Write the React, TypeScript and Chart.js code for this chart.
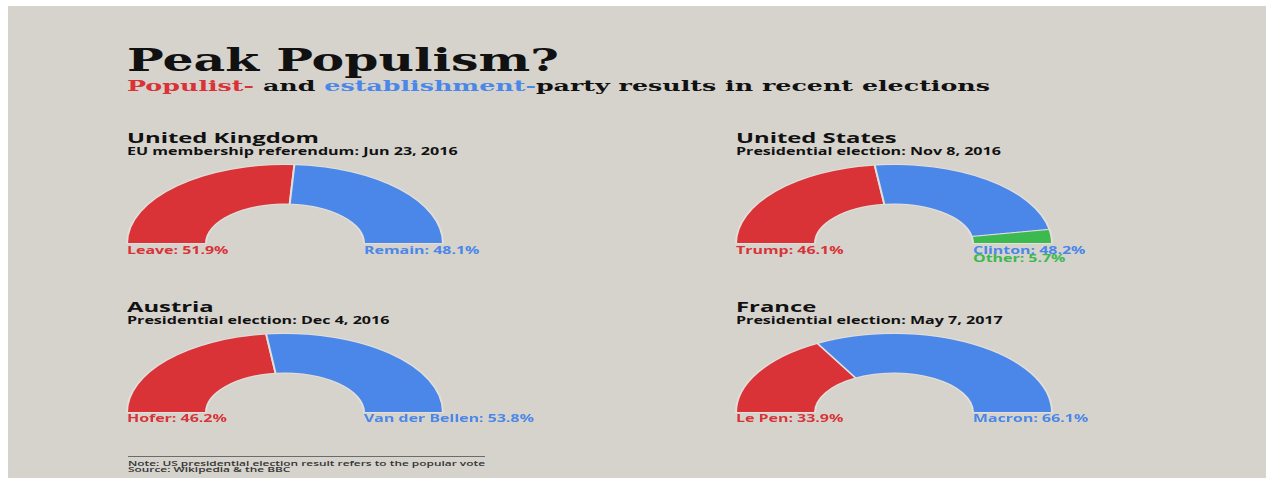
import React, { useEffect, useRef } from 'react';
import { Chart, registerables } from 'chart.js';

Chart.register(...registerables);

// ---------- data ----------
const titleText = 'Peak Populism?';
const subtitleParts = ['Populist-', ' and ', 'establishment-', 'party results in recent elections'];
const countries = ['United Kingdom', 'United States', 'Austria', 'France'];
const elections = [
  'EU membership referendum: Jun 23, 2016',
  'Presidential election: Nov 8, 2016',
  'Presidential election: Dec 4, 2016',
  'Presidential election: May 7, 2017',
];
const ukParties = ['Leave', 'Remain'];
const ukShares = [51.9, 48.1];
const usParties = ['Trump', 'Clinton', 'Other'];
const usShares = [46.1, 48.2, 5.7];
const atParties = ['Hofer', 'Van der Bellen'];
const atShares = [46.2, 53.8];
const frParties = ['Le Pen', 'Macron'];
const frShares = [33.9, 66.1];
const noteLines = [
  'Note: US presidential election result refers to the popular vote',
  'Source: Wikipedia & the BBC',
];

// ---------- styles ----------
const RED = '#d93237';
const BLUE = '#4a87e8';
const GREEN = '#3cb94f';
const BG = '#d6d3cd';
const ukColors = [RED, BLUE];
const usColors = [RED, BLUE, GREEN];
const atColors = [RED, BLUE];
const frColors = [RED, BLUE];

const PANEL_LEFT = 8;
const PANEL_TOP = 6;
const PANEL_W = 1258;
const PANEL_H = 472;

const GW = 160; // internal gauge box width
const GH = 80; // internal gauge box height
const STRETCH = 2;
const RADIUS = 79;

const SANS = "'Open Sans', 'Noto Sans', sans-serif";
const SERIF = "'DejaVu Serif', serif";
const SANS_METRICS = { cap: 0.714, asc: 1.069, desc: 0.293 };
const SERIF_METRICS = { cap: 0.729, asc: 0.928, desc: 0.236 };

let mctx: CanvasRenderingContext2D | null = null;
function textWidth(text: string, font: string): number {
  if (!mctx) mctx = document.createElement('canvas').getContext('2d');
  if (!mctx) return 0;
  mctx.font = font;
  return mctx.measureText(text).width;
}

type Style = { family: string; weight: number; size: number; scale: number; asc: number; desc: number; lh: number };

function makeStyle(
  family: string,
  weight: number,
  capPx: number,
  m: { cap: number; asc: number; desc: number },
  refText: string,
  refWidth: number,
  lineHeightPx?: number
): Style {
  const size = capPx / m.cap;
  const w = textWidth(refText, `${weight} ${size}px ${family}`);
  return {
    family,
    weight,
    size,
    scale: w > 0 ? refWidth / w : 1.7,
    asc: m.asc,
    desc: m.desc,
    lh: lineHeightPx ?? size,
  };
}

// x, baseline: position of the first line's baseline (page pixels)
function Txt(props: { x: number; baseline: number; st: Style; color?: string; children: React.ReactNode }) {
  const { x, baseline, st, color, children } = props;
  const baseOffset = (st.lh - (st.asc + st.desc) * st.size) / 2 + st.asc * st.size;
  const top = baseline - baseOffset;
  return (
    <div
      style={{
        position: 'absolute',
        left: x - PANEL_LEFT,
        top: top - PANEL_TOP,
        fontFamily: st.family,
        fontWeight: st.weight,
        fontSize: st.size,
        lineHeight: `${st.lh}px`,
        whiteSpace: 'nowrap',
        color: color || '#111',
        transform: `scaleX(${st.scale})`,
        transformOrigin: 'left top',
      }}
    >
      {children}
    </div>
  );
}

function Gauge(props: { parties: string[]; shares: number[]; colors: string[]; cx: number; base: number }) {
  const { parties, shares, colors, cx, base } = props;
  const ref = useRef<HTMLCanvasElement>(null);
  useEffect(() => {
    if (!ref.current) return;
    const chart = new Chart(ref.current, {
      type: 'doughnut',
      data: {
        labels: parties,
        datasets: [
          {
            data: shares,
            backgroundColor: colors,
            borderColor: '#e2dfda',
            borderWidth: 1,
          },
        ],
      },
      options: {
        responsive: true,
        maintainAspectRatio: false,
        animation: false,
        devicePixelRatio: 2,
        rotation: -90,
        circumference: 180,
        cutout: '50%',
        events: [],
        layout: { padding: 0 },
        plugins: { legend: { display: false }, tooltip: { enabled: false } },
      } as any,
    });
    return () => chart.destroy();
  }, []);
  return (
    <div
      style={{
        position: 'absolute',
        left: cx - GW - PANEL_LEFT,
        top: base - (GH - 0.5) - PANEL_TOP,
        width: GW,
        height: GH,
        transform: `scaleX(${STRETCH})`,
        transformOrigin: 'left top',
      }}
    >
      <canvas ref={ref} />
    </div>
  );
}

const gauges = [
  { parties: ukParties, shares: ukShares, colors: ukColors, cx: 285, base: 243.3 },
  { parties: usParties, shares: usShares, colors: usColors, cx: 893.5, base: 243.3 },
  { parties: atParties, shares: atShares, colors: atColors, cx: 285, base: 412 },
  { parties: frParties, shares: frShares, colors: frColors, cx: 893.5, base: 412 },
];

const fmt = (p: string, v: number) => `${p}: ${v.toFixed(1)}%`;

export default function App() {
  const titleSt = makeStyle(SERIF, 700, 22.5, SERIF_METRICS, titleText, 432);
  const subSt = makeStyle(SERIF, 700, 11, SERIF_METRICS, subtitleParts.join(''), 863);
  const headSt = makeStyle(SANS, 700, 10.7, SANS_METRICS, countries[0], 192);
  const electSt = makeStyle(SANS, 700, 7.4, SANS_METRICS, elections[0], 330.6);
  const labelSt = makeStyle(SANS, 700, 6.9, SANS_METRICS, fmt(atParties[1], atShares[1]), 170, 8.4);
  const noteSt = makeStyle(SANS, 600, 5.2, SANS_METRICS, noteLines[0], 357, 6.5);

  return (
    <div
      style={{
        position: 'absolute',
        left: PANEL_LEFT,
        top: PANEL_TOP,
        width: PANEL_W,
        height: PANEL_H,
        background: BG,
        overflow: 'hidden',
      }}
    >
      <Txt x={127} baseline={71} st={titleSt}>
        {titleText}
      </Txt>
      <Txt x={127} baseline={91.5} st={subSt}>
        <span style={{ color: RED }}>{subtitleParts[0]}</span>
        <span>{subtitleParts[1]}</span>
        <span style={{ color: BLUE }}>{subtitleParts[2]}</span>
        <span>{subtitleParts[3]}</span>
      </Txt>

      {gauges.map((g, i) => {
        const left = g.cx - STRETCH * RADIUS;
        const right = g.cx + STRETCH * RADIUS * 0.5;
        const headBase = g.base - 100;
        const rest = g.parties.slice(1);
        return (
          <React.Fragment key={i}>
            <Txt x={left} baseline={headBase} st={headSt}>
              {countries[i]}
            </Txt>
            <Txt x={left} baseline={headBase + 12.4} st={electSt}>
              {elections[i]}
            </Txt>
            <Gauge {...g} />
            <Txt x={left} baseline={g.base + 11.2} st={labelSt} color={g.colors[0]}>
              {fmt(g.parties[0], g.shares[0])}
            </Txt>
            <Txt x={right} baseline={g.base + 11.2} st={labelSt}>
              {rest.map((p, j) => (
                <React.Fragment key={p}>
                  {j > 0 ? <br /> : null}
                  <span style={{ color: g.colors[j + 1] }}>{fmt(p, g.shares[j + 1])}</span>
                </React.Fragment>
              ))}
            </Txt>
          </React.Fragment>
        );
      })}

      <div
        style={{
          position: 'absolute',
          left: 128 - PANEL_LEFT,
          top: 456 - PANEL_TOP,
          width: 357,
          height: 0,
          borderTop: '1px solid #6b6b6b',
        }}
      />
      <Txt x={128} baseline={466} st={noteSt} color="#333">
        {noteLines[0]}
        <br />
        {noteLines[1]}
      </Txt>
    </div>
  );
}
